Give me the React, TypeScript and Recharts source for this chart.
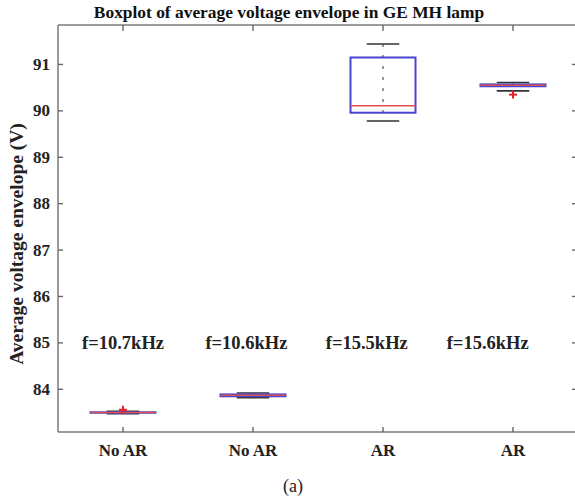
import React from "react";
import { ComposedChart, Bar, Scatter, XAxis, YAxis } from "recharts";

const groupKeys = ["g1", "g2", "g3", "g4"];
const groupLabels = ["No AR", "No AR", "AR", "AR"];
const whiskerLow = [83.475, 83.82, 89.78, 90.43];
const q1 = [83.495, 83.85, 89.96, 90.53];
const median = [83.5, 83.87, 90.11, 90.55];
const q3 = [83.505, 83.89, 91.15, 90.57];
const whiskerHigh = [83.525, 83.92, 91.44, 90.61];

const outlierPos = [1, 4];
const outlierVal = [83.56, 90.35];

const freqLabels = ["f=10.7kHz", "f=10.6kHz", "f=15.5kHz", "f=15.6kHz"];
const freqPos = [0.685, 1.634, 2.56, 3.49];
const freqLevel = [85, 85, 85, 85];

const yTicks = [84, 85, 86, 87, 88, 89, 90, 91];
const yDomain = [83.08, 91.85];

const data = groupKeys.map((key, i) => ({
  key,
  lo: whiskerLow[i],
  q1: q1[i],
  med: median[i],
  q3: q3[i],
  hi: whiskerHigh[i],
}));
const outliers = outlierPos.map((x, i) => ({ x, y: outlierVal[i] }));
const freqNotes = freqLabels.map((text, i) => ({ x: freqPos[i], y: freqLevel[i], text }));

const FONT = '"Liberation Serif", "Times New Roman", serif';
const AXIS = "#7a7a7a";
const TICK = "#666";
const BOX = "#4646cf";
const MED = "#e05050";
const TXT = "#222";

// tick label sits tickSize(6) + tickMargin away from the axis line; inward marks drawn back from there
const LeftTick = (props: any) => {
  const { x, y, payload } = props;
  return (
    <g>
      <line x1={x + 8} x2={x + 13} y1={y} y2={y} stroke={TICK} strokeWidth={1.4} />
      <text x={x} y={y} textAnchor="end" dominantBaseline="central" fontFamily={FONT} fontWeight={700} fontSize={17} fill={TXT}>
        {payload.value}
      </text>
    </g>
  );
};

const BottomTick = (props: any) => {
  const { x, y, index } = props;
  return (
    <g>
      <line x1={x} x2={x} y1={y - 10} y2={y - 15} stroke={TICK} strokeWidth={1.4} />
      <text x={x} y={y} dy="0.8em" textAnchor="middle" fontFamily={FONT} fontWeight={700} fontSize={17} fill={TXT}>
        {groupLabels[index]}
      </text>
    </g>
  );
};

const TopTick = (props: any) => {
  const { x, y } = props;
  return <line x1={x} x2={x} y1={y + 8} y2={y + 14} stroke={TICK} strokeWidth={1.4} />;
};

const RightTick = (props: any) => {
  const { x, y } = props;
  return <line x1={x - 8} x2={x - 14} y1={y} y2={y} stroke={TICK} strokeWidth={1.4} />;
};

const Whisker = (props: any) => {
  const { x, y, width, height } = props;
  const top = Math.min(y, y + height);
  const bot = Math.max(y, y + height);
  const cx = x + width / 2;
  const cap = width / 4;
  return (
    <g>
      <line x1={cx} x2={cx} y1={top} y2={bot} stroke="#333" strokeWidth={1} strokeDasharray="3 8" />
      <line x1={cx - cap} x2={cx + cap} y1={top} y2={top} stroke="#333" strokeWidth={1.6} />
      <line x1={cx - cap} x2={cx + cap} y1={bot} y2={bot} stroke="#333" strokeWidth={1.6} />
    </g>
  );
};

const BoxShape = (props: any) => {
  const { x, y, width, height } = props;
  const top = Math.min(y, y + height);
  const h = Math.abs(height);
  return <rect x={x} y={top} width={width} height={h} fill="none" stroke={BOX} strokeWidth={2} />;
};

const MedianShape = (props: any) => {
  const { x, y, width, height } = props;
  const my = y + height / 2;
  return <line x1={x} x2={x + width} y1={my} y2={my} stroke={MED} strokeWidth={1.5} />;
};

const PlusMark = (props: any) => {
  const { cx, cy } = props;
  return (
    <g stroke="#e8202a" strokeWidth={2}>
      <line x1={cx - 4} x2={cx + 4} y1={cy} y2={cy} />
      <line x1={cx} x2={cx} y1={cy - 4} y2={cy + 4} />
    </g>
  );
};

const NoteText = (props: any) => {
  const { cx, cy, payload } = props;
  return (
    <text x={cx} y={cy} dominantBaseline="central" fontFamily={FONT} fontWeight={700} fontSize={18.5} fill={TXT}>
      {payload.text}
    </text>
  );
};

export default function App() {
  return (
    <div
      style={{
        position: "fixed",
        left: 0,
        top: 0,
        width: 575,
        height: 501,
        overflow: "hidden",
        background: "#fff",
        fontFamily: FONT,
      }}
    >
      <div
        style={{
          position: "absolute",
          left: 0,
          width: 578,
          top: 2,
          textAlign: "center",
          fontSize: 17.4,
          fontWeight: 700,
          color: "#111",
        }}
      >
        Boxplot of average voltage envelope in GE MH lamp
      </div>
      <div
        style={{
          position: "absolute",
          left: 17,
          top: 244,
          transform: "translate(-50%, -50%) rotate(-90deg)",
          whiteSpace: "nowrap",
          fontSize: 19.5,
          fontWeight: 700,
          color: TXT,
        }}
      >
        Average voltage envelope (V)
      </div>
      <div
        style={{
          position: "absolute",
          left: 0,
          width: 586,
          top: 476,
          textAlign: "center",
          fontSize: 18,
          color: TXT,
        }}
      >
        (a)
      </div>
      <ComposedChart
        width={581}
        height={501}
        data={data}
        margin={{ top: 24, right: 2, bottom: 0, left: 0 }}
        barCategoryGap="25%"
      >
        <XAxis
          xAxisId="b"
          dataKey="key"
          height={69}
          tick={<BottomTick />}
          tickLine={false}
          tickMargin={4}
          interval={0}
          axisLine={{ stroke: AXIS, strokeWidth: 1.5 }}
        />
        <XAxis xAxisId="w" dataKey="key" hide />
        <XAxis xAxisId="m" dataKey="key" hide />
        <XAxis
          xAxisId="t"
          dataKey="key"
          orientation="top"
          height={1}
          interval={0}
          tick={<TopTick />}
          tickLine={false}
          axisLine={{ stroke: AXIS, strokeWidth: 1.5 }}
        />
        <XAxis xAxisId="n" dataKey="x" type="number" domain={[0.5, 4.5]} hide allowDataOverflow />
        <YAxis
          domain={yDomain}
          ticks={yTicks}
          allowDataOverflow
          width={58}
          interval={0}
          tick={<LeftTick />}
          tickLine={false}
          axisLine={{ stroke: AXIS, strokeWidth: 1.5 }}
        />
        <YAxis
          yAxisId="r"
          orientation="right"
          domain={yDomain}
          ticks={yTicks}
          allowDataOverflow
          width={1}
          interval={0}
          tick={<RightTick />}
          tickLine={false}
          axisLine={{ stroke: AXIS, strokeWidth: 1.5 }}
        />
        <Bar xAxisId="w" dataKey={(d: any) => [d.lo, d.hi]} shape={<Whisker />} isAnimationActive={false} />
        <Bar xAxisId="b" dataKey={(d: any) => [d.q1, d.q3]} shape={<BoxShape />} isAnimationActive={false} />
        <Bar xAxisId="m" dataKey={(d: any) => [d.med, d.med]} shape={<MedianShape />} isAnimationActive={false} />
        <Scatter xAxisId="n" data={outliers} dataKey="y" shape={<PlusMark />} isAnimationActive={false} />
        <Scatter xAxisId="n" data={freqNotes} dataKey="y" shape={<NoteText />} isAnimationActive={false} />
      </ComposedChart>
    </div>
  );
}
